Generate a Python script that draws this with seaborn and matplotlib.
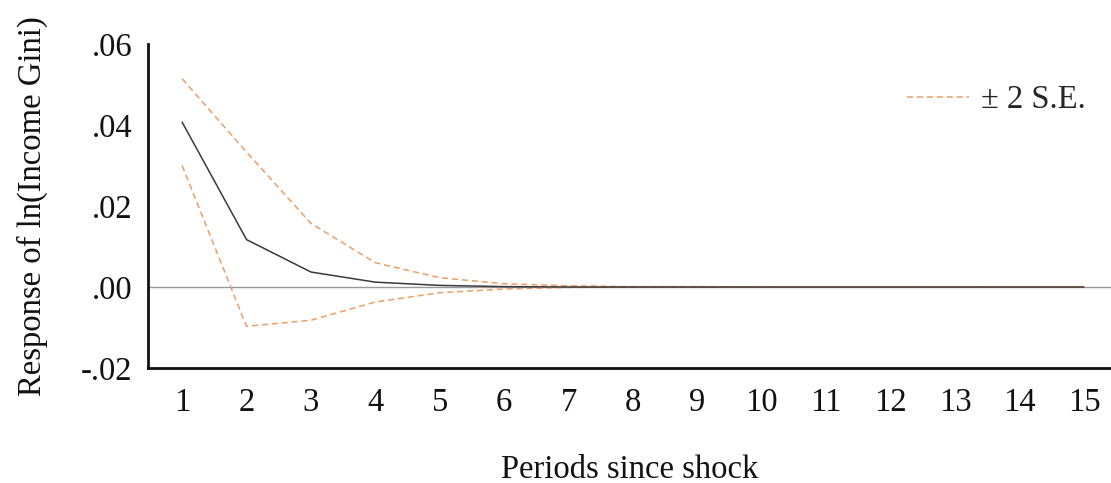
import matplotlib
matplotlib.use("Agg")
import matplotlib.pyplot as plt
import seaborn as sns
import pandas as pd

# Impulse response of ln(Income Gini) with +/- 2 standard-error bands
periods = list(range(1, 16))
response = [0.0407, 0.0117, 0.0037, 0.0012, 0.0004, 0.0001, 0.0, 0.0, 0.0, 0.0, 0.0, 0.0, 0.0, 0.0, 0.0]
upper_se = [0.0514, 0.0333, 0.0157, 0.0060, 0.0023, 0.0008, 0.0003, 0.0001, 0.0001, 0.0, 0.0, 0.0, 0.0, 0.0, 0.0]
lower_se = [0.0300, -0.0097, -0.0082, -0.0037, -0.0014, -0.0005, -0.0001, 0.0, 0.0, 0.0, 0.0, 0.0, 0.0, 0.0, 0.0]
y_ticks = [-0.02, 0.00, 0.02, 0.04, 0.06]
y_tick_labels = ["-.02", ".00", ".02", ".04", ".06"]

df = pd.DataFrame({"period": periods, "response": response,
                   "upper": upper_se, "lower": lower_se})

sns.set_theme(style="white")
plt.rcParams["font.family"] = ["Liberation Serif", "DejaVu Serif"]

fig = plt.figure(figsize=(11.11, 4.83), dpi=100)
ax = fig.add_axes([0.1332, 0.238, 0.8668, 0.671])

se_color = "#EE9E66"
ax.axhline(0, color="#9a9a9a", lw=1.0, zorder=1)
sns.lineplot(data=df, x="period", y="response", ax=ax, color="#3a3a3a", lw=1.1, zorder=3)
sns.lineplot(data=df, x="period", y="upper", ax=ax, color=se_color, lw=1.1,
             linestyle=(0, (4, 2.5)), label="± 2 S.E.", zorder=2)
sns.lineplot(data=df, x="period", y="lower", ax=ax, color=se_color, lw=1.1,
             linestyle=(0, (4, 2.5)), zorder=2)

ax.set_xlim(0.47, 15.42)
ax.set_ylim(-0.02, 0.06)
ax.set_xticks(periods)
ax.set_xticklabels([str(p) for p in periods])
ax.set_yticks(y_ticks)
ax.set_yticklabels(y_tick_labels)
ax.tick_params(axis="both", labelsize=23.5, length=0, colors="#111111")
ax.tick_params(axis="x", pad=14)
ax.tick_params(axis="y", pad=11)

for side in ["top", "right"]:
    ax.spines[side].set_visible(False)
for side in ["left", "bottom"]:
    ax.spines[side].set_color("#111111")
    ax.spines[side].set_linewidth(2.0)

ax.set_xlabel("Periods since shock", fontsize=23.5, labelpad=26, color="#111111")
ax.set_ylabel("Response of ln(Income Gini)", fontsize=23.5, labelpad=24, color="#111111")

leg = ax.legend(loc="upper right", bbox_to_anchor=(1.004, 0.965), frameon=False,
                fontsize=23.5, handlelength=1.9, handletextpad=0.35)

fig.savefig("out.png", dpi=100)
